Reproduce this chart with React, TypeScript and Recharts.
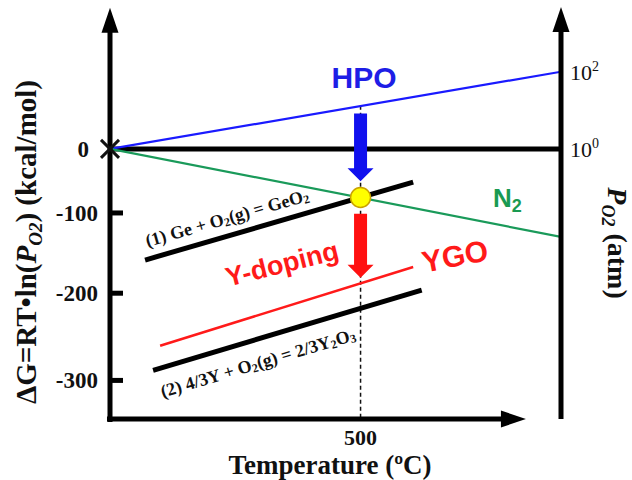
import React from 'react';
import { LineChart, Line, XAxis, YAxis, ReferenceLine, ReferenceDot } from 'recharts';

const W = 632;
const H = 480;
const SERIF = '"Liberation Serif", "Times New Roman", serif';
const SANS = '"Liberation Sans", Arial, sans-serif';

// schematic Ellingham-type diagram: temperature (°C) vs ΔG (kcal/mol)
const hpoLine = [{ t: 0, g: 0 }, { t: 900, g: 100 }];
const zeroLine = [{ t: 0, g: 0 }, { t: 900, g: 0 }];
const n2Line = [{ t: 0, g: 0 }, { t: 900, g: -114 }];
const geO2Line = [{ t: 70, g: -144 }, { t: 605, g: -43 }];
const ygoLine = [{ t: 100, g: -255 }, { t: 605, g: -153 }];
const y2O3Line = [{ t: 86, g: -287 }, { t: 622, g: -183 }];

const tDomain = [0, 900];
const gDomain = [-350, 180];
const pO2Domain = [-7, 3.6]; // log10(P_O2), 10^2 sits level with the end of the HPO line

const xTicks = [500];
// the printed ΔG ticks are not evenly spaced in the figure
const yTickValues = [0, -83, -187, -300];
const yTickLabels = ['0', '-100', '-200', '-300'];
const pO2Ticks = [0, 2];

const markT = 500;
const crossG = -63;
const dashTopG = 56;
const hpoArrowG = [46, -42];
const dopingArrowG = [-84, -167];

const leftAxisG = [-354, 183];
const rightAxisG = [-350, 184];
const bottomAxisT = [-6, 830];

const axisArrow = (p: any) => {
  const { x1, y1, x2, y2 } = p;
  const len = Math.hypot(x2 - x1, y2 - y1);
  const ux = (x2 - x1) / len;
  const uy = (y2 - y1) / len;
  const hl = 25;
  const hw = 8.5;
  const bx = x2 - ux * hl;
  const by = y2 - uy * hl;
  return (
    <g>
      <line x1={x1} y1={y1} x2={bx + ux * 2} y2={by + uy * 2} stroke="#000" strokeWidth={5} />
      <polygon
        points={`${x2},${y2} ${bx - uy * hw},${by + ux * hw} ${bx + uy * hw},${by - ux * hw}`}
        fill="#000"
      />
    </g>
  );
};

const fatArrow = (color: string) => (p: any) => {
  const { x1, y1, x2, y2 } = p;
  const len = Math.hypot(x2 - x1, y2 - y1);
  const ux = (x2 - x1) / len;
  const uy = (y2 - y1) / len;
  const hl = 13;
  const hw = 13;
  const sw = 6.5;
  const bx = x2 - ux * hl;
  const by = y2 - uy * hl;
  const pts = [
    [x1 - uy * sw, y1 + ux * sw],
    [bx - uy * sw, by + ux * sw],
    [bx - uy * hw, by + ux * hw],
    [x2, y2],
    [bx + uy * hw, by - ux * hw],
    [bx + uy * sw, by - ux * sw],
    [x1 + uy * sw, y1 - ux * sw],
  ];
  return <polygon points={pts.map((q) => q.join(',')).join(' ')} fill={color} />;
};

const LeftTick = (props: any) => {
  const { x, y, payload } = props;
  const i = yTickValues.indexOf(payload.value);
  const zero = payload.value === 0;
  return (
    <g>
      {!zero && <line x1={x + 12} x2={x + 25} y1={y} y2={y} stroke="#000" strokeWidth={5} />}
      <text
        x={zero ? x - 9 : x}
        y={y + 8}
        textAnchor="end"
        fontFamily={SERIF}
        fontWeight="bold"
        fontSize={23}
        fill="#111"
      >
        {yTickLabels[i]}
      </text>
    </g>
  );
};

const RightTick = (props: any) => {
  const { x, y, payload } = props;
  return (
    <text x={x} y={y + 8} fontFamily={SERIF} fontSize={22} fill="#111">
      10
      <tspan dy={-9} fontSize={14}>
        {payload.value}
      </tspan>
    </text>
  );
};

const BottomTick = (props: any) => {
  const { x, y, payload } = props;
  return (
    <text x={x} y={y + 26} textAnchor="middle" fontFamily={SERIF} fontWeight="bold" fontSize={22} fill="#111">
      {payload.value}
    </text>
  );
};

const crossShape = (p: any) => (
  <g stroke="#111" strokeWidth={3}>
    <line x1={p.cx - 9} y1={p.cy - 9} x2={p.cx + 9} y2={p.cy + 9} />
    <line x1={p.cx - 9} y1={p.cy + 9} x2={p.cx + 9} y2={p.cy - 9} />
  </g>
);

const Sub = ({ children, size = 12, shift = 4 }: any) => (
  <>
    <tspan dy={shift} fontSize={size}>
      {children}
    </tspan>
    <tspan dy={-shift}>{'\u200b'}</tspan>
  </>
);

export default function App() {
  return (
    <div style={{ position: 'absolute', left: 0, top: 0, width: W, height: H, background: '#fff' }}>
      <LineChart width={W} height={H} margin={{ top: 10, right: 11, bottom: 31, left: 70 }}>
        <XAxis
          dataKey="t"
          type="number"
          domain={tDomain}
          allowDataOverflow
          ticks={xTicks}
          axisLine={false}
          tickLine={false}
          tickSize={0}
          tickMargin={0}
          height={30}
          tick={<BottomTick />}
        />
        <YAxis
          yAxisId="left"
          type="number"
          domain={gDomain}
          allowDataOverflow
          ticks={yTickValues}
          interval={0}
          axisLine={false}
          tickLine={false}
          tickSize={0}
          tickMargin={12}
          width={40}
          tick={<LeftTick />}
        />
        <YAxis
          yAxisId="right"
          orientation="right"
          type="number"
          domain={pO2Domain}
          allowDataOverflow
          ticks={pO2Ticks}
          interval={0}
          axisLine={false}
          tickLine={false}
          tickSize={0}
          tickMargin={9}
          width={60}
          tick={<RightTick />}
        />

        <ReferenceLine
          yAxisId="left"
          segment={[{ x: markT, y: dashTopG }, { x: markT, y: gDomain[0] }]}
          stroke="#111"
          strokeWidth={1.5}
          strokeDasharray="4 3"
          ifOverflow="visible"
        />

        <Line yAxisId="left" data={zeroLine} dataKey="g" stroke="#000" strokeWidth={5} dot={false} isAnimationActive={false} />
        <Line yAxisId="left" data={hpoLine} dataKey="g" stroke="#1a1aff" strokeWidth={2.2} dot={false} isAnimationActive={false} />
        <Line yAxisId="left" data={n2Line} dataKey="g" stroke="#1a9a5a" strokeWidth={2.2} dot={false} isAnimationActive={false} />
        <Line yAxisId="left" data={geO2Line} dataKey="g" stroke="#000" strokeWidth={5} dot={false} isAnimationActive={false} />
        <Line yAxisId="left" data={ygoLine} dataKey="g" stroke="#ff1a1a" strokeWidth={2.5} dot={false} isAnimationActive={false} />
        <Line yAxisId="left" data={y2O3Line} dataKey="g" stroke="#000" strokeWidth={5} dot={false} isAnimationActive={false} />

        <ReferenceLine
          yAxisId="left"
          segment={[{ x: 0, y: leftAxisG[0] }, { x: 0, y: leftAxisG[1] }]}
          shape={axisArrow}
          ifOverflow="visible"
        />
        <ReferenceLine
          yAxisId="left"
          segment={[{ x: tDomain[1], y: rightAxisG[0] }, { x: tDomain[1], y: rightAxisG[1] }]}
          shape={axisArrow}
          ifOverflow="visible"
        />
        <ReferenceLine
          yAxisId="left"
          segment={[{ x: bottomAxisT[0], y: gDomain[0] }, { x: bottomAxisT[1], y: gDomain[0] }]}
          shape={axisArrow}
          ifOverflow="visible"
        />

        <ReferenceLine
          yAxisId="left"
          segment={[{ x: markT, y: hpoArrowG[0] }, { x: markT, y: hpoArrowG[1] }]}
          shape={fatArrow('#1010ee')}
          ifOverflow="visible"
        />
        <ReferenceLine
          yAxisId="left"
          segment={[{ x: markT, y: dopingArrowG[0] }, { x: markT, y: dopingArrowG[1] }]}
          shape={fatArrow('#ff1010')}
          ifOverflow="visible"
        />

        <ReferenceDot yAxisId="left" x={0} y={0} r={9} shape={crossShape} ifOverflow="visible" />
        <ReferenceDot
          yAxisId="left"
          x={markT}
          y={crossG}
          r={10}
          fill="#ffff00"
          stroke="#c9a200"
          strokeWidth={1.5}
          ifOverflow="visible"
        />
      </LineChart>

      <svg width={W} height={H} style={{ position: 'absolute', left: 0, top: 0, pointerEvents: 'none' }}>
        <text transform="translate(36,242) rotate(-90)" textAnchor="middle" fontFamily={SERIF} fontWeight="bold" fontSize={29} fill="#111">
          ΔG=RT•ln(<tspan fontStyle="italic">P</tspan>
          <tspan dy={6} fontSize={19} fontStyle="italic">
            O2
          </tspan>
          <tspan dy={-6}>) (kcal/mol)</tspan>
        </text>
        <text transform="translate(608,243) rotate(90)" textAnchor="middle" fontFamily={SERIF} fontWeight="bold" fontSize={28} fill="#111">
          <tspan fontStyle="italic">P</tspan>
          <tspan dy={6} fontSize={18} fontStyle="italic">
            O2
          </tspan>
          <tspan dy={-6}> (atm)</tspan>
        </text>
        <text x={330} y={474} textAnchor="middle" fontFamily={SERIF} fontWeight="bold" fontSize={27} fill="#111">
          Temperature (ºC)
        </text>

        <text x={364} y={88} textAnchor="middle" fontFamily={SANS} fontWeight="bold" fontSize={30} fill="#1e1ee6">
          HPO
        </text>
        <text x={493} y={207} fontFamily={SANS} fontWeight="bold" fontSize={26} fill="#1a9a52">
          N<tspan dy={5} fontSize={18}>2</tspan>
        </text>
        <text transform="translate(455,256) rotate(-11)" textAnchor="middle" dominantBaseline="central" fontFamily={SANS} fontWeight="bold" fontSize={30} fill="#ff1a1a">
          YGO
        </text>
        <text transform="translate(282,264) rotate(-14)" textAnchor="middle" dominantBaseline="central" fontFamily={SANS} fontWeight="bold" fontSize={27} fill="#ff1a1a">
          Y-doping
        </text>

        <text transform="translate(227,218) rotate(-16)" textAnchor="middle" dominantBaseline="central" fontFamily={SERIF} fontWeight="bold" fontSize={18} fill="#111">
          (1) Ge + O<Sub>2</Sub>(g) = GeO<Sub>2</Sub>
        </text>
        <text transform="translate(258,363) rotate(-16.7)" textAnchor="middle" dominantBaseline="central" fontFamily={SERIF} fontWeight="bold" fontSize={18} fill="#111">
          (2) 4/3Y + O<Sub>2</Sub>(g) = 2/3Y<Sub>2</Sub>O<Sub>3</Sub>
        </text>
      </svg>
    </div>
  );
}
